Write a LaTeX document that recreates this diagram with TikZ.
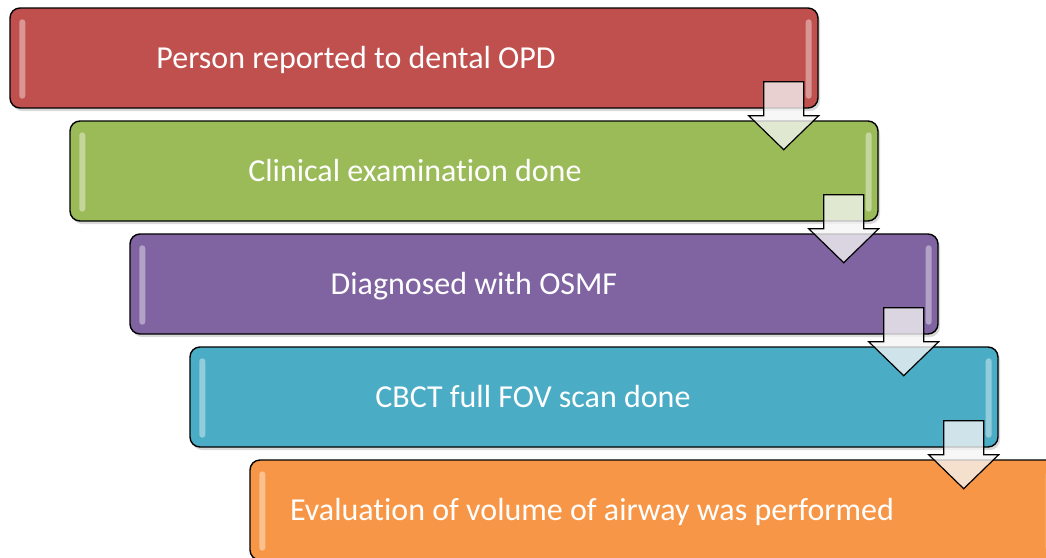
\documentclass[tikz,border=0pt]{standalone}
\usepackage{fontspec}
\setmainfont{Carlito}[Ligatures=NoCommon]
\usepackage{tikz}
\usetikzlibrary{shadows}

\definecolor{opdred}{HTML}{C0504D}
\definecolor{examgreen}{HTML}{9BBB59}
\definecolor{diagpurple}{HTML}{8064A2}
\definecolor{scanteal}{HTML}{4BACC6}
\definecolor{evalorange}{HTML}{F79646}

\begin{document}
\begin{tikzpicture}[x=1pt,y=-1pt,
    stepbox/.style={draw=black,line width=1.4pt,rounded corners=10pt,
      minimum width=808pt,minimum height=100pt,inner sep=0pt,
      drop shadow={shadow xshift=2pt,shadow yshift=-3pt,opacity=0.3}},
    steptext/.style={anchor=base,text=white,font=\fontsize{32}{38}\selectfont},
    shine/.style={fill=white,fill opacity=0.4,draw=none,rounded corners=3pt},
    downarrow/.style={draw=black,line width=1.2pt,fill=white!92!gray,fill opacity=0.78,line join=miter}]
  \useasboundingbox (0,0) rectangle (1046,557);
  \clip (0,0) rectangle (1046,557);

  % steps
  \foreach \c/\t [count=\n] in {opdred/Person reported to dental OPD,
      examgreen/Clinical examination done,
      diagpurple/Diagnosed with OSMF,
      scanteal/CBCT full FOV scan done,
      evalorange/Evaluation of volume of airway was performed}
  {
    \node[stepbox,fill=\c] (b\n) at ({414+60*(\n-1)},{58+113*(\n-1)}) {};
    \fill[shine] ([shift={(10,12)}]b\n.north west) rectangle ([shift={(16,-10)}]b\n.south west);
    \fill[shine] ([shift={(-13,12)}]b\n.north east) rectangle ([shift={(-7,-10)}]b\n.south east);
    \node[steptext] (t\n) at ({356+59*(\n-1)},{68+113*(\n-1)}) {\t};
  }

  % arrows between steps
  \foreach \n in {1,...,4}
  {
    \coordinate (a\n) at ([xshift=-35pt]b\n.south east);
    \draw[downarrow] ([shift={(-20,-27)}]a\n) -- ([shift={(20,-27)}]a\n)
      -- ([shift={(20,7)}]a\n) -- ([shift={(35,7)}]a\n)
      -- ([shift={(0,41)}]a\n) -- ([shift={(-35,7)}]a\n)
      -- ([shift={(-20,7)}]a\n) -- cycle;
  }
\end{tikzpicture}
\end{document}
